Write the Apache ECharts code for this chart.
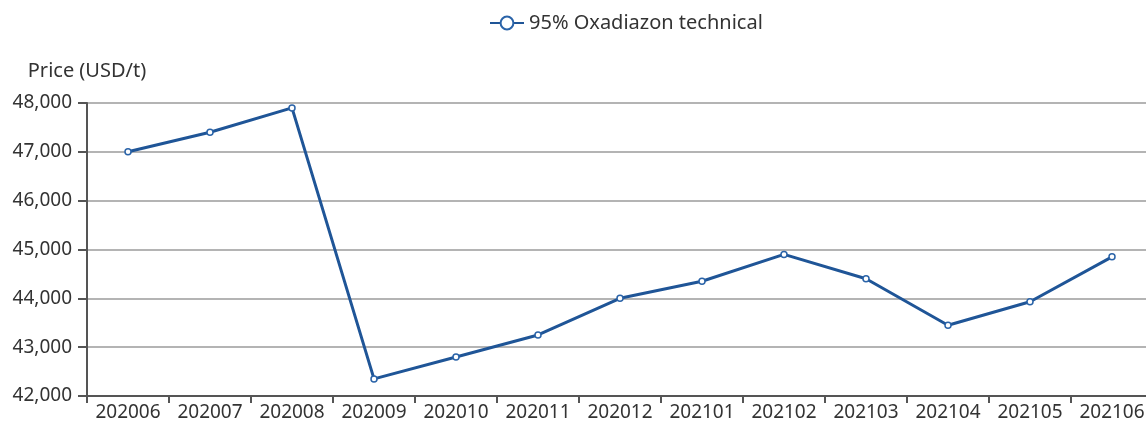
<!DOCTYPE html>
<html>
<head>
<meta charset="utf-8">
<script src="https://cdn.jsdelivr.net/npm/echarts@6/dist/echarts.min.js"></script>
<style>
  html, body { margin: 0; padding: 0; overflow: hidden; background: #fff; }
  #main { width: 1160px; height: 425px; }
</style>
</head>
<body>
<div id="main"></div>
<script>
// months on the x axis
var months = ['202006', '202007', '202008', '202009', '202010', '202011', '202012',
  '202101', '202102', '202103', '202104', '202105', '202106'];
// 95% Oxadiazon technical, USD/t
var prices = [47000, 47400, 47900, 42350, 42800, 43250, 44000,
  44350, 44900, 44400, 43450, 43930, 44850];
var seriesName = '95% Oxadiazon technical';
var yTicks = { min: 42000, max: 48000, step: 1000 };

var chart = echarts.init(document.getElementById('main'));

var option = {
  animation: false,
  color: ['#1f5597'],
  legend: {
    top: 8,
    left: 484,
    itemWidth: 34,
    itemHeight: 16,
    itemGap: 8,
    textStyle: { fontFamily: 'Noto Sans', fontSize: 20, color: '#333' },
    data: [seriesName]
  },
  grid: { left: 87, top: 103, right: 7, bottom: 29 },
  xAxis: {
    type: 'category',
    data: months,
    boundaryGap: true,
    axisLine: { lineStyle: { color: '#555', width: 2 } },
    axisTick: { show: true, length: 7, lineStyle: { color: '#555', width: 2 } },
    axisLabel: { interval: 0, fontFamily: 'Noto Sans', fontSize: 19, color: '#333', margin: 7 }
  },
  yAxis: {
    type: 'value',
    name: 'Price (USD/t)',
    nameLocation: 'end',
    nameGap: 22,
    nameTextStyle: { fontFamily: 'Noto Sans', fontSize: 20, color: '#333', align: 'center' },
    min: yTicks.min,
    max: yTicks.max,
    interval: yTicks.step,
    axisLine: { show: true, lineStyle: { color: '#555', width: 2 } },
    axisTick: { show: true, length: 9, lineStyle: { color: '#555', width: 2 } },
    axisLabel: {
      fontFamily: 'Noto Sans', fontSize: 19, color: '#333', margin: 15,
      formatter: function (v) { return v.toLocaleString('en-US'); }
    },
    splitLine: { lineStyle: { color: '#b4b4b4', width: 2 } }
  },
  series: [{
    name: seriesName,
    type: 'line',
    data: prices,
    symbol: 'circle',
    symbolSize: 6,
    lineStyle: { width: 3, color: '#1f5597' },
    itemStyle: { color: '#fff', borderColor: '#2a63a8', borderWidth: 1.5 }
  }]
};
chart.setOption(option);
</script>
</body>
</html>
